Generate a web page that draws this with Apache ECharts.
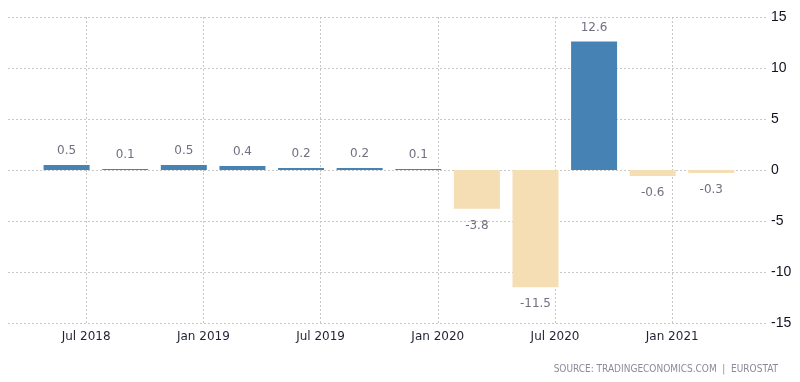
<!DOCTYPE html>
<html>
<head>
<meta charset="utf-8">
<script src="https://cdn.jsdelivr.net/npm/echarts@6/dist/echarts.min.js"></script>
<style>html,body{margin:0;padding:0;background:#fff;}#c{width:800px;height:382px;}</style>
</head>
<body>
<div id="c"></div>
<script>
// Data
var quarters = ['2018 Q2','2018 Q3','2018 Q4','2019 Q1','2019 Q2','2019 Q3','2019 Q4','2020 Q1','2020 Q2','2020 Q3','2020 Q4','2021 Q1'];
var barDates = ['2018-06','2018-09','2018-12','2019-03','2019-06','2019-09','2019-12','2020-03','2020-06','2020-09','2020-12','2021-03'];
var values = [0.5, 0.1, 0.5, 0.4, 0.2, 0.2, 0.1, -3.8, -11.5, 12.6, -0.6, -0.3];
var tickDates = ['2018-07','2019-01','2019-07','2020-01','2020-07','2021-01'];
var tickLabels = ['Jul 2018','Jan 2019','Jul 2019','Jan 2020','Jul 2020','Jan 2021'];
var yTicks = [-15, -10, -5, 0, 5, 10, 15];
var axisStart = '2018-03';
var axisEnd = '2021-05';
var sourceText = 'SOURCE: TRADINGECONOMICS.COM  |  EUROSTAT';

function monthIndex(s) {
  var p = s.split('-');
  return (parseInt(p[0], 10) - 2018) * 12 + (parseInt(p[1], 10) - 1);
}
var tickPos = tickDates.map(monthIndex);
var labelMap = {};
tickPos.forEach(function (m, i) { labelMap[m] = tickLabels[i]; });

var chart = echarts.init(document.getElementById('c'), null, {renderer: 'canvas'});
var option = {
  animation: false,
  backgroundColor: '#ffffff',
  grid: {left: 8, right: 34, top: 17, bottom: 59, containLabel: false},
  xAxis: {
    type: 'value',
    min: monthIndex(axisStart),
    max: monthIndex(axisEnd) + 0.8,
    axisLine: {show: false},
    axisTick: {show: true, customValues: tickPos, length: 3, lineStyle: {color: '#c8c8c8', type: [2, 2]}},
    splitLine: {show: true, lineStyle: {color: '#c8c8c8', type: [2, 2], width: 1}},
    axisLabel: {
      customValues: tickPos,
      formatter: function (v) { return labelMap[v] || ''; },
      color: '#1f2233', fontFamily: 'DejaVu Sans', fontSize: 12, margin: 8
    }
  },
  yAxis: {
    type: 'value',
    position: 'right',
    min: yTicks[0], max: yTicks[yTicks.length - 1], interval: 5,
    axisLine: {show: false},
    axisTick: {show: false},
    splitLine: {show: true, lineStyle: {color: '#c8c8c8', type: [2, 2], width: 1}},
    axisLabel: {color: '#111122', fontFamily: 'Liberation Sans', fontSize: 14, margin: 5}
  },
  series: [{
    type: 'bar',
    barWidth: 46,
    data: values.map(function (v, i) { return {name: quarters[i], value: [monthIndex(barDates[i]), v]}; }),
    itemStyle: {
      color: function (p) { return p.value[1] >= 0 ? '#4682B4' : '#F5DEB3'; }
    },
    label: {
      show: true,
      formatter: function (p) { return String(p.value[1]); },
      color: '#707080', fontFamily: 'DejaVu Sans', fontSize: 12,
      position: 'top', distance: 8
    }
  }],
  graphic: [{
    type: 'text', right: 22, top: 364,
    style: {text: sourceText, fill: '#8a8a9a', font: '10px "DejaVu Sans Condensed"', textAlign: 'right'}
  }]
};
// per-item label positions for negatives
option.series[0].data.forEach(function (d) {
  if (d.value[1] < 0) d.label = {position: 'bottom', distance: 11};
});
chart.setOption(option);
</script>
</body>
</html>
